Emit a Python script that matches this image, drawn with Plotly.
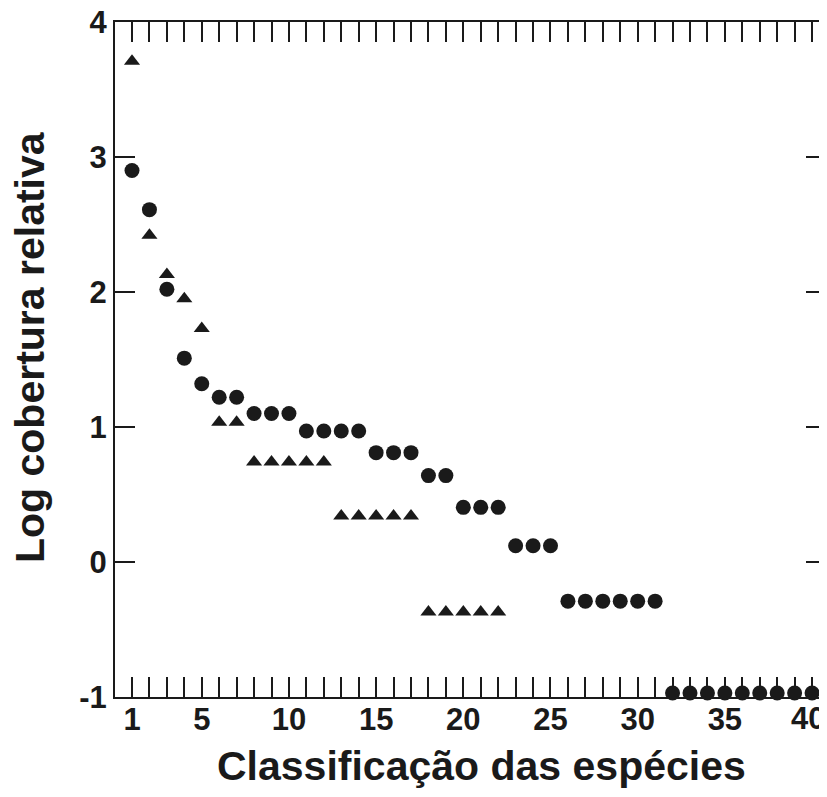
import plotly.graph_objects as go

# Data
circle_x = list(range(1, 41))
circle_y = [2.90, 2.61, 2.02, 1.51, 1.32, 1.22, 1.22, 1.10, 1.10, 1.10,
            0.97, 0.97, 0.97, 0.97, 0.81, 0.81, 0.81, 0.64, 0.64, 0.405,
            0.405, 0.405, 0.12, 0.12, 0.12, -0.29, -0.29, -0.29, -0.29, -0.29,
            -0.29, -0.97, -0.97, -0.97, -0.97, -0.97, -0.97, -0.97, -0.97, -0.97]
tri_x = list(range(1, 23))
tri_y = [3.71, 2.42, 2.13, 1.95, 1.73, 1.035, 1.035, 0.74, 0.74, 0.74,
         0.74, 0.74, 0.34, 0.34, 0.34, 0.34, 0.34, -0.37, -0.37, -0.37,
         -0.37, -0.37]

x_tickvals = list(range(1, 41))
x_labeled = [1, 5, 10, 15, 20, 25, 30, 35]   # "40" is drawn as an edge-anchored label
x_last_label = "40"
x_ticktext = [str(v) if v in x_labeled else "" for v in x_tickvals]
y_tickvals = [-1, 0, 1, 2, 3, 4]
y_ticktext = ["-1", "0", "1", "2", "3", "4"]

FONT = "Liberation Sans, Arial, sans-serif"
INK = "#1a1a1a"

# page body has an 8px margin; figure is offset by it
OFF = 8
L, T, PW, PH = 115 - OFF, 22 - OFF, 711, 675

fig = go.Figure()
fig.add_trace(go.Scatter(x=tri_x, y=tri_y, mode="markers",
                         marker=dict(symbol="triangle-up", size=14, color=INK),
                         showlegend=False, cliponaxis=False))
fig.add_trace(go.Scatter(x=circle_x, y=circle_y, mode="markers",
                         marker=dict(symbol="circle", size=15, color=INK),
                         showlegend=False, cliponaxis=False))

W, H = 827 - OFF, 797 - OFF
fig.update_layout(
    width=W, height=H,
    margin=dict(l=L, r=W - L - PW, t=T, b=H - T - PH, autoexpand=False),
    paper_bgcolor="white", plot_bgcolor="white",
    font=dict(family=FONT, color=INK),
    xaxis=dict(range=[0.025, 40.80], tickvals=x_tickvals, ticktext=x_ticktext,
               ticks="inside", ticklen=20, tickwidth=2, tickcolor=INK,
               showline=True, linewidth=2, linecolor=INK, mirror="ticks",
               showgrid=False, zeroline=False, automargin=False,
               ticklabeloverflow="allow", ticklabelstandoff=-6,
               tickfont=dict(family=FONT, size=31, color=INK, weight="bold")),
    yaxis=dict(range=[-1, 4], tickvals=y_tickvals, ticktext=y_ticktext,
               ticks="inside", ticklen=20, tickwidth=2, tickcolor=INK,
               showline=True, linewidth=2, linecolor=INK, mirror="ticks",
               showgrid=False, zeroline=False, automargin=False,
               ticklabeloverflow="allow",
               tickfont=dict(family=FONT, size=31, color=INK, weight="bold")),
    annotations=[
        dict(text="<b>" + x_last_label + "</b>", xref="paper", yref="paper",
             x=1, y=0, xanchor="right", yanchor="top", yshift=-3, xshift=0,
             borderpad=0, showarrow=False, font=dict(family=FONT, size=31, color=INK)),
        dict(text="<b>Classificação das espécies</b>", xref="paper", yref="paper",
             x=(481 - 115) / PW, y=(697 - 766) / PH, xanchor="center", yanchor="middle",
             showarrow=False, font=dict(family=FONT, size=41, color=INK)),
        dict(text="<b>Log cobertura relativa</b>", xref="paper", yref="paper",
             x=(30 - 115) / PW, y=(697 - 347) / PH, xanchor="center", yanchor="middle",
             textangle=-90, showarrow=False, font=dict(family=FONT, size=41, color=INK)),
    ],
)

fig.write_html("out.html")
